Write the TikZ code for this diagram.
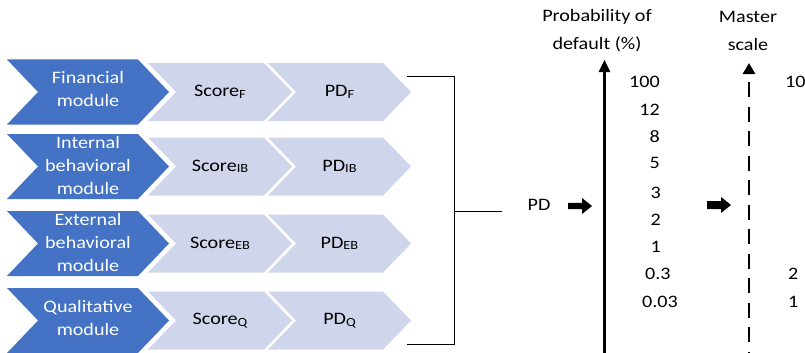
\documentclass[tikz,border=0pt]{standalone}
\usepackage{fontspec}
\setmainfont{Carlito}[FakeStretch=1.15]
\usetikzlibrary{arrows.meta}

\definecolor{modblue}{HTML}{4472C4}
\definecolor{steplight}{HTML}{CFD5EA}

% small subscript set close to the baseline
\newcommand\subx[1]{\raisebox{-1.5pt}{\fontsize{12.5}{12.5}\selectfont #1}}

% chevron: left x, tip x, centre y, half height, point depth, colour
\newcommand\chevron[6]{%
  \fill[#6] (#1,#3-#4) -- (#2-#5,#3-#4) -- (#2,#3) -- (#2-#5,#3+#4)
    -- (#1,#3+#4) -- (#1+#5,#3) -- cycle;}

% block arrow pointing right: tail x, centre y, shaft half height
\newcommand\blockarrow[3]{%
  \fill[black] (#1,#2-#3) -- (#1+14,#2-#3) -- (#1+14,#2-8) -- (#1+24,#2)
    -- (#1+14,#2+8) -- (#1+14,#2+#3) -- (#1,#2+#3) -- cycle;}

\begin{document}
\begin{tikzpicture}[x=1pt,y=-1pt,
  every node/.style={font=\fontsize{17.5}{23}\selectfont, inner sep=0pt},
  modtext/.style={text=white, align=center},
  steptext/.style={text=black, align=center},
  numl/.style={anchor=base west},
  numr/.style={anchor=base east},
  link/.style={draw=black, line width=1pt}]
\useasboundingbox (0,0) rectangle (805,353);

% module rows
\foreach \yc in {92,166.5,243.5,320.5}{
  \chevron{7}{169}{\yc}{32.5}{31}{modblue}
  \chevron{148}{292}{\yc}{29}{28}{steplight}
  \chevron{268}{411}{\yc}{29}{28}{steplight}
}

\node[modtext] (fin) at (88,89) {Financial\\module};
\node[modtext] (ib)  at (88,165) {Internal\\behavioral\\module};
\node[modtext] (eb)  at (88,242) {External\\behavioral\\module};
\node[modtext] (ql)  at (88,317.5) {Qualitative\\module};

\node[steptext] (scF)  at (220,92)    {Score\subx{F}};
\node[steptext] (scIB) at (220,166.5) {Score\subx{IB}};
\node[steptext] (scEB) at (220,243.5) {Score\subx{EB}};
\node[steptext] (scQ)  at (220,320.5) {Score\subx{Q}};

\node[steptext] (pdF)  at (339.5,92)    {PD\subx{F}};
\node[steptext] (pdIB) at (339.5,166.5) {PD\subx{IB}};
\node[steptext] (pdEB) at (339.5,243.5) {PD\subx{EB}};
\node[steptext] (pdQ)  at (339.5,320.5) {PD\subx{Q}};

% bracket joining the module PDs
\coordinate (brTop) at (407,76);
\coordinate (jTop)  at (454,76);
\coordinate (jMid)  at (454,211);
\coordinate (jBot)  at (454,344);
\coordinate (brBot) at (407,344);
\coordinate (pdIn)  at (502,211);
\draw[link] (brTop) -- (jTop) -- (jBot) -- (brBot);
\draw[link] (jMid) -- (pdIn);

\node (pd) at (539,205) {PD};
\blockarrow{568}{206}{3.2}
\blockarrow{707}{205}{4}

% probability of default axis
\node[align=center, font=\fontsize{17.5}{28}\selectfont] (pdhead) at (597,31) {Probability of\\default (\%)};
\coordinate (axBot) at (604.5,356);
\coordinate (axTop) at (604.5,60);
\draw[line width=2.6pt, -{Triangle[width=11pt,length=12pt]}] (axBot) -- (axTop);

\node[numr] (p100) at (660,87)  {100};
\node[numr] (p12)  at (660,115) {12};
\node[numr] (p8)   at (660,142) {8};
\node[numr] (p5)   at (660,168) {5};
\node[numr] (p3)   at (661,198) {3};
\node[numr] (p2)   at (661,225) {2};
\node[numr] (p1)   at (661,252) {1};
\node[numl] (p03)  at (645,279) {0.3};
\node[numl] (p003) at (642,307) {0.03};

% master scale axis
\node[align=center, font=\fontsize{17.5}{28}\selectfont] (mshead) at (748,31) {Master\\scale};
\coordinate (msTop) at (749,63);
\coordinate (msBot) at (749,356);
\draw[line width=2.8pt, dash pattern=on 15pt off 9.5pt, dash phase=15.5pt,
  {Triangle[width=12pt,length=11pt]}-] (msTop) -- (msBot);

\node[numl] (m10) at (785,87)  {10};
\node[numl] (m2)  at (788,279) {2};
\node[numl] (m1)  at (788,307) {1};
\end{tikzpicture}
\end{document}
